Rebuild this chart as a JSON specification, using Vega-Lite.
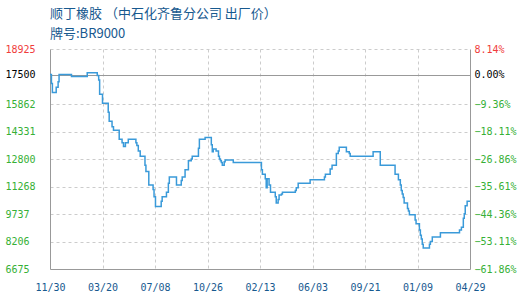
{
  "$schema": "https://vega.github.io/schema/vega-lite/v6.json",
  "width": 420,
  "height": 220,
  "autosize": {"type": "none"},
  "padding": {"left": 50, "top": 49, "right": 50, "bottom": 31},
  "background": "white",
  "title": {
    "text": "顺丁橡胶 （中石化齐鲁分公司 出厂价）",
    "subtitle": "牌号:BR9000",
    "anchor": "start",
    "frame": "group",
    "font": "Noto Sans CJK SC",
    "fontSize": 13,
    "fontWeight": "normal",
    "color": "#17598f",
    "subtitleFont": "Noto Sans CJK SC",
    "subtitleFontSize": 13,
    "subtitleColor": "#17598f",
    "subtitlePadding": 7,
    "offset": 3
  },
  "data": {
    "values": [
      {"d": "2012/11/30", "p": 17500},
      {"d": "2012/12/03", "p": 17000},
      {"d": "2012/12/05", "p": 16500},
      {"d": "2012/12/13", "p": 16800},
      {"d": "2012/12/17", "p": 17100},
      {"d": "2012/12/19", "p": 17500},
      {"d": "2013/01/14", "p": 17400},
      {"d": "2013/02/16", "p": 17600},
      {"d": "2013/03/09", "p": 17450},
      {"d": "2013/03/12", "p": 17200},
      {"d": "2013/03/14", "p": 16400},
      {"d": "2013/03/20", "p": 15900},
      {"d": "2013/04/01", "p": 15400},
      {"d": "2013/04/03", "p": 14900},
      {"d": "2013/04/09", "p": 14600},
      {"d": "2013/04/12", "p": 14400},
      {"d": "2013/04/24", "p": 13900},
      {"d": "2013/04/30", "p": 13700},
      {"d": "2013/05/03", "p": 13500},
      {"d": "2013/05/07", "p": 13700},
      {"d": "2013/05/13", "p": 13900},
      {"d": "2013/05/29", "p": 13700},
      {"d": "2013/05/31", "p": 13550},
      {"d": "2013/06/03", "p": 13250},
      {"d": "2013/06/07", "p": 12950},
      {"d": "2013/06/17", "p": 12450},
      {"d": "2013/06/19", "p": 12100},
      {"d": "2013/06/25", "p": 11350},
      {"d": "2013/07/04", "p": 11100},
      {"d": "2013/07/06", "p": 10700},
      {"d": "2013/07/09", "p": 10150},
      {"d": "2013/07/21", "p": 10450},
      {"d": "2013/07/23", "p": 10700},
      {"d": "2013/08/01", "p": 10950},
      {"d": "2013/08/05", "p": 11450},
      {"d": "2013/08/07", "p": 11800},
      {"d": "2013/08/22", "p": 11350},
      {"d": "2013/09/01", "p": 11600},
      {"d": "2013/09/03", "p": 11800},
      {"d": "2013/09/09", "p": 12200},
      {"d": "2013/09/16", "p": 12700},
      {"d": "2013/09/22", "p": 12800},
      {"d": "2013/09/24", "p": 12950},
      {"d": "2013/10/07", "p": 13400},
      {"d": "2013/10/09", "p": 13900},
      {"d": "2013/10/21", "p": 14000},
      {"d": "2013/11/03", "p": 13600},
      {"d": "2013/11/05", "p": 13200},
      {"d": "2013/11/07", "p": 13350},
      {"d": "2013/11/13", "p": 13250},
      {"d": "2013/11/18", "p": 12950},
      {"d": "2013/11/20", "p": 12800},
      {"d": "2013/11/22", "p": 12700},
      {"d": "2013/11/24", "p": 12600},
      {"d": "2013/11/26", "p": 12450},
      {"d": "2013/11/30", "p": 12650},
      {"d": "2013/12/02", "p": 12750},
      {"d": "2013/12/19", "p": 12600},
      {"d": "2014/02/16", "p": 12200},
      {"d": "2014/02/18", "p": 11950},
      {"d": "2014/02/24", "p": 11700},
      {"d": "2014/02/26", "p": 11200},
      {"d": "2014/02/28", "p": 11700},
      {"d": "2014/03/04", "p": 11350},
      {"d": "2014/03/07", "p": 10950},
      {"d": "2014/03/17", "p": 10700},
      {"d": "2014/03/19", "p": 10350},
      {"d": "2014/03/23", "p": 10550},
      {"d": "2014/03/25", "p": 10800},
      {"d": "2014/03/30", "p": 10850},
      {"d": "2014/04/01", "p": 10950},
      {"d": "2014/04/28", "p": 11050},
      {"d": "2014/04/30", "p": 11200},
      {"d": "2014/05/04", "p": 11450},
      {"d": "2014/05/29", "p": 11650},
      {"d": "2014/06/28", "p": 11800},
      {"d": "2014/06/30", "p": 11950},
      {"d": "2014/07/10", "p": 12250},
      {"d": "2014/07/14", "p": 12450},
      {"d": "2014/07/23", "p": 13100},
      {"d": "2014/07/27", "p": 13250},
      {"d": "2014/07/29", "p": 13450},
      {"d": "2014/08/13", "p": 13200},
      {"d": "2014/08/19", "p": 13100},
      {"d": "2014/08/21", "p": 12950},
      {"d": "2014/10/08", "p": 13200},
      {"d": "2014/10/23", "p": 12450},
      {"d": "2014/11/23", "p": 11950},
      {"d": "2014/11/30", "p": 11650},
      {"d": "2014/12/04", "p": 11350},
      {"d": "2014/12/06", "p": 11050},
      {"d": "2014/12/08", "p": 10850},
      {"d": "2014/12/10", "p": 10650},
      {"d": "2014/12/12", "p": 10350},
      {"d": "2014/12/19", "p": 10050},
      {"d": "2014/12/21", "p": 9900},
      {"d": "2014/12/23", "p": 9700},
      {"d": "2015/01/04", "p": 9400},
      {"d": "2015/01/06", "p": 9200},
      {"d": "2015/01/13", "p": 8850},
      {"d": "2015/01/15", "p": 8550},
      {"d": "2015/01/17", "p": 8350},
      {"d": "2015/01/19", "p": 8050},
      {"d": "2015/01/21", "p": 7850},
      {"d": "2015/02/03", "p": 8050},
      {"d": "2015/02/05", "p": 8200},
      {"d": "2015/02/09", "p": 8450},
      {"d": "2015/02/26", "p": 8700},
      {"d": "2015/04/07", "p": 8850},
      {"d": "2015/04/11", "p": 9000},
      {"d": "2015/04/15", "p": 9500},
      {"d": "2015/04/17", "p": 9750},
      {"d": "2015/04/19", "p": 10200},
      {"d": "2015/04/23", "p": 10450},
      {"d": "2015/04/29", "p": 10450}
    ]
  },
  "encoding": {
    "x": {
      "field": "d",
      "type": "temporal",
      "scale": {
        "domain": [
          {"year": 2012, "month": 11, "date": 30},
          {"year": 2015, "month": 4, "date": 29}
        ]
      },
      "axis": {
        "title": null,
        "values": [
          {"year": 2012, "month": 11, "date": 30},
          {"year": 2013, "month": 3, "date": 20},
          {"year": 2013, "month": 7, "date": 8},
          {"year": 2013, "month": 10, "date": 26},
          {"year": 2014, "month": 2, "date": 13},
          {"year": 2014, "month": 6, "date": 3},
          {"year": 2014, "month": 9, "date": 21},
          {"year": 2015, "month": 1, "date": 9},
          {"year": 2015, "month": 4, "date": 29}
        ],
        "format": "%m/%d",
        "labelFont": "DejaVu Sans Mono",
        "labelFontSize": 10,
        "labelColor": "#17598f",
        "labelPadding": 13,
        "labelFlush": false,
        "labelOverlap": false,
        "ticks": false,
        "tickSize": 0,
        "domainColor": "#999999",
        "domainWidth": 1,
        "grid": true,
        "gridColor": "#cccccc",
        "gridDash": [3, 3],
        "gridOpacity": {
          "condition": {
            "test": "datum.value <= datetime(2012, 10, 30, 12) || datum.value >= datetime(2015, 3, 28)",
            "value": 0
          },
          "value": 1
        }
      }
    },
    "y": {
      "field": "p",
      "type": "quantitative",
      "scale": {"domain": [6675, 18925], "nice": false, "zero": false}
    }
  },
  "layer": [
    {
      "mark": {
        "type": "line",
        "interpolate": "step-after",
        "color": "#3a9ad9",
        "strokeWidth": 1.5
      },
      "encoding": {
        "y": {
          "field": "p",
          "type": "quantitative",
          "axis": {
            "orient": "left",
            "title": null,
            "format": "d",
            "values": [6675, 8206, 9737, 11268, 12800, 14331, 15862, 17500, 18925],
            "labelAlign": "left",
            "labelPadding": 45,
            "labelFont": "DejaVu Sans Mono",
            "labelFontSize": 10,
            "labelColor": {
              "condition": [
                {"test": "datum.value > 17500", "value": "#f03c3c"},
                {"test": "datum.value == 17500", "value": "#000000"}
              ],
              "value": "#36b036"
            },
            "ticks": false,
            "tickSize": 0,
            "domainColor": "#999999",
            "grid": true,
            "gridColor": {
              "condition": {"test": "datum.value == 17500", "value": "#999999"},
              "value": "#cccccc"
            },
            "gridDash": {
              "condition": {"test": "datum.value == 17500", "value": []},
              "value": [3, 3]
            },
            "gridOpacity": {
              "condition": {"test": "datum.value == 6675", "value": 0},
              "value": 1
            }
          }
        }
      }
    },
    {
      "mark": {"type": "point", "opacity": 0},
      "encoding": {
        "y": {
          "field": "p",
          "type": "quantitative",
          "axis": {
            "orient": "right",
            "title": null,
            "values": [6675, 8206, 9737, 11268, 12800, 14331, 15862, 17500, 18925],
            "labelExpr": "format((datum.value / 17500 - 1) * 100, '.2f') + '%'",
            "labelAlign": "left",
            "labelPadding": 4,
            "labelFont": "DejaVu Sans Mono",
            "labelFontSize": 10,
            "labelColor": {
              "condition": [
                {"test": "datum.value > 17500", "value": "#f03c3c"},
                {"test": "datum.value == 17500", "value": "#000000"}
              ],
              "value": "#36b036"
            },
            "ticks": false,
            "tickSize": 0,
            "domainColor": "#999999",
            "grid": false
          }
        }
      }
    }
  ],
  "resolve": {"axis": {"y": "independent"}},
  "config": {"view": {"stroke": null}}
}
